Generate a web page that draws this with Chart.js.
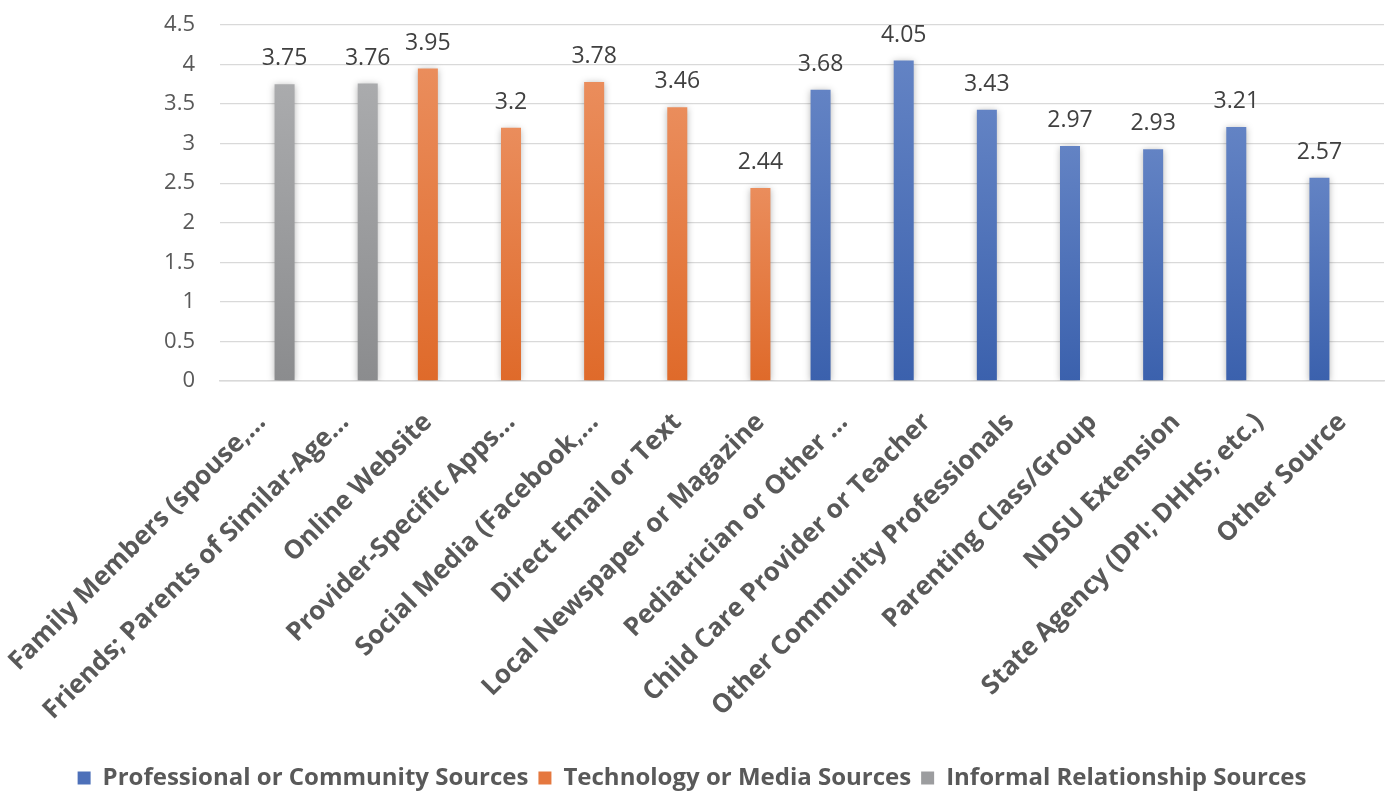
<!DOCTYPE html>
<html>
<head>
<meta charset="utf-8">
<script src="https://cdn.jsdelivr.net/npm/chart.js@4.4.0/dist/chart.umd.min.js"></script>
<style>
  html, body { margin: 0; padding: 0; background: #ffffff; overflow: hidden; }
  #wrap { width: 1390px; height: 791px; }
</style>
</head>
<body>
<div id="wrap"><canvas id="chart" width="1390" height="791"></canvas></div>
<script>
// Information sources, average rating per source
const categories = [
  'Family Members (spouse,…',
  'Friends; Parents of Similar-Age…',
  'Online Website',
  'Provider-Specific Apps…',
  'Social Media (Facebook,…',
  'Direct Email or Text',
  'Local Newspaper or Magazine',
  'Pediatrician or Other …',
  'Child Care Provider or Teacher',
  'Other Community Professionals',
  'Parenting Class/Group',
  'NDSU Extension',
  'State Agency (DPI; DHHS; etc.)',
  'Other Source'
];

const seriesNames = [
  'Professional or Community Sources',
  'Technology or Media Sources',
  'Informal Relationship Sources'
];

const professional = [null, null, null, null, null, null, null, 3.68, 4.05, 3.43, 2.97, 2.93, 3.21, 2.57];
const technology   = [null, null, 3.95, 3.2, 3.78, 3.46, 2.44, null, null, null, null, null, null, null];
const informal     = [3.75, 3.76, null, null, null, null, null, null, null, null, null, null, null, null];

const yTicks = [0, 0.5, 1, 1.5, 2, 2.5, 3, 3.5, 4, 4.5];

// Bar fill: light at the top of each bar, darker toward the baseline
function barFill(top, bottom, solid) {
  return (ctx) => {
    const chart = ctx.chart;
    const y = chart.scales && chart.scales.y;
    if (ctx.type !== 'data' || ctx.raw == null || !y || !chart.chartArea) return solid;
    const y0 = y.getPixelForValue(ctx.raw);
    const y1 = y.getPixelForValue(0);
    if (!isFinite(y0) || !isFinite(y1) || y0 === y1) return solid;
    const g = chart.ctx.createLinearGradient(0, y0, 0, y1);
    g.addColorStop(0, top);
    g.addColorStop(1, bottom);
    return g;
  };
}

const palette = {
  blue:   { top: '#6383c4', bottom: '#3b61ad', solid: '#4d70b9' },
  orange: { top: '#ea8d5c', bottom: '#df6a2a', solid: '#e5783f' },
  grey:   { top: '#aaabad', bottom: '#8b8c8e', solid: '#9c9d9f' }
};

// Soft shadow under the bars, value text above each bar
const valueLabels = {
  id: 'valueLabels',
  beforeDatasetsDraw(chart) {
    const c = chart.ctx;
    c.save();
    c.shadowColor = 'rgba(0,0,0,0.30)';
    c.shadowBlur = 7;
    c.shadowOffsetX = 0;
    c.shadowOffsetY = 1;
  },
  afterDatasetsDraw(chart) {
    const c = chart.ctx;
    c.restore();
    c.save();
    c.font = '23px "Open Sans"';
    c.fillStyle = '#404040';
    c.textAlign = 'center';
    c.textBaseline = 'alphabetic';
    chart.data.datasets.forEach((ds, i) => {
      const meta = chart.getDatasetMeta(i);
      meta.data.forEach((bar, j) => {
        const v = ds.data[j];
        if (v == null) return;
        c.fillText(String(v), bar.x, bar.y - 19);
      });
    });
    c.restore();
  }
};

function build() {
  const ctx = document.getElementById('chart').getContext('2d');
  new Chart(ctx, {
    type: 'bar',
    data: {
      labels: categories,
      datasets: [
        { label: seriesNames[0], data: professional,
          backgroundColor: barFill(palette.blue.top, palette.blue.bottom, palette.blue.solid) },
        { label: seriesNames[1], data: technology,
          backgroundColor: barFill(palette.orange.top, palette.orange.bottom, palette.orange.solid) },
        { label: seriesNames[2], data: informal,
          backgroundColor: barFill(palette.grey.top, palette.grey.bottom, palette.grey.solid) }
      ]
    },
    options: {
      responsive: false,
      animation: false,
      devicePixelRatio: 1,
      categoryPercentage: 0.83,
      barPercentage: 0.87,
      layout: { padding: { top: 25, right: 6, bottom: -9, left: 0 } },
      plugins: {
        tooltip: { enabled: false },
        legend: {
          position: 'bottom',
          labels: {
            boxWidth: 13,
            boxHeight: 13,
            padding: 10,
            color: '#595959',
            font: { family: 'Open Sans', weight: 'bold', size: 24 },
            generateLabels(chart) {
              const solids = [palette.blue.solid, palette.orange.solid, palette.grey.solid];
              return chart.data.datasets.map((ds, i) => ({
                text: ds.label,
                fillStyle: solids[i],
                strokeStyle: solids[i],
                lineWidth: 0,
                fontColor: '#595959',
                hidden: false,
                datasetIndex: i
              }));
            }
          }
        }
      },
      scales: {
        x: {
          grid: { display: false, drawTicks: false },
          border: { display: true, color: '#d9d9d9', width: 1.5 },
          ticks: {
            autoSkip: false,
            maxRotation: 45,
            minRotation: 45,
            padding: 26,
            color: '#595959',
            font: { family: 'Open Sans', weight: 'bold', size: 26 }
          },
          afterFit(scale) {
            scale.height = 375;
            scale.paddingLeft = 0;
            scale.paddingRight = 0;
          }
        },
        y: {
          min: 0,
          max: 4.5,
          afterBuildTicks(scale) { scale.ticks = yTicks.map(v => ({ value: v })); },
          ticks: {
            padding: 25,
            color: '#595959',
            font: { family: 'Open Sans', size: 22 },
            callback: (v) => String(v)
          },
          grid: { color: '#d9d9d9', lineWidth: 1.3, drawTicks: false },
          border: { display: false },
          afterFit(scale) {
            scale.width = 220;
            scale.paddingTop = 0;
            scale.paddingBottom = 0;
          }
        }
      }
    },
    plugins: [valueLabels]
  });
}

Promise.all([
  document.fonts.load('bold 26px "Open Sans"'),
  document.fonts.load('23px "Open Sans"')
]).then(build, build);
</script>
</body>
</html>
